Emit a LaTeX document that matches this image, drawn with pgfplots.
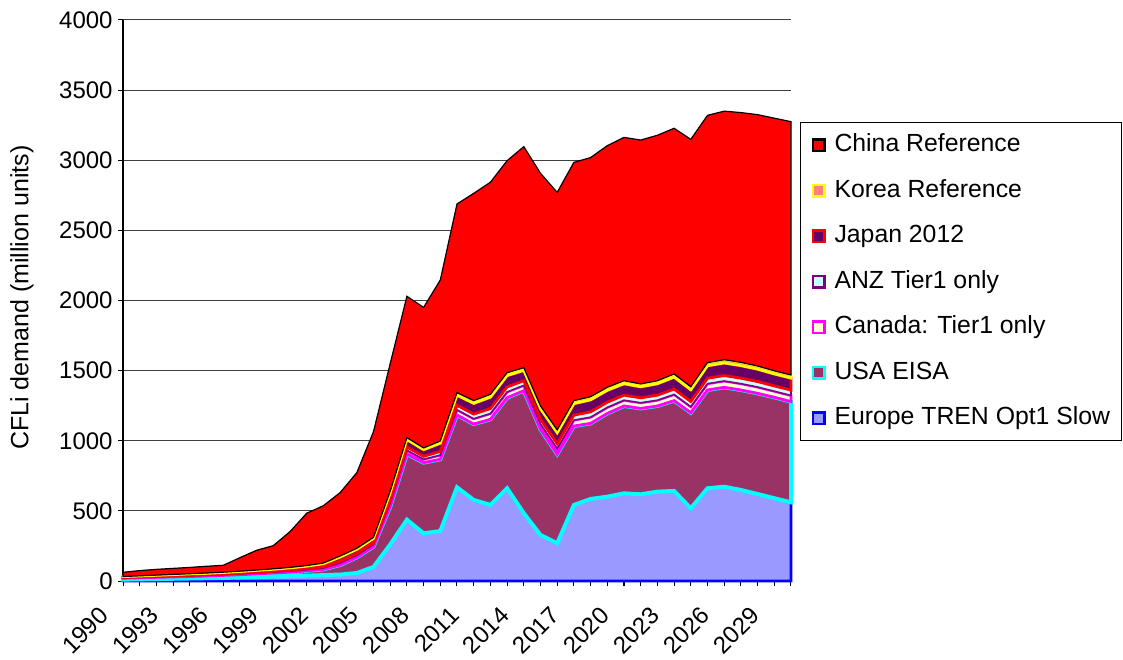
\documentclass[border=0pt]{standalone}
\usepackage{pgfplots}
\usepackage{pgfplotstable}
\pgfplotsset{compat=1.18}
\usepgfplotslibrary{fillbetween}
\usepackage{fontspec}
\setmainfont{Liberation Sans}

\definecolor{eurFill}{HTML}{9999FF}
\definecolor{eurLine}{HTML}{0000FF}
\definecolor{usaFill}{HTML}{993366}
\definecolor{usaLine}{HTML}{00FFFF}
\definecolor{canFill}{HTML}{FFFFCC}
\definecolor{canLine}{HTML}{FF00FF}
\definecolor{anzFill}{HTML}{CCFFFF}
\definecolor{anzLine}{HTML}{800080}
\definecolor{japFill}{HTML}{660066}
\definecolor{japLine}{HTML}{FF0000}
\definecolor{korFill}{HTML}{FF8080}
\definecolor{korLine}{HTML}{FFFF00}
\definecolor{chnFill}{HTML}{FF0000}
\definecolor{chnLine}{HTML}{000000}

% cumulative levels (top of each stacked series)
% E: Europe, U: +USA, C: +Canada, A: +ANZ, J: +Japan, K: +Korea, T: +China (total)
\pgfplotstableread{
year Z E U C A J K T
1990 0 10 20 23 25 31 32 62
1991 0 12 23 26 29 35 37 74
1992 0 14 26 30 33 40 42 83
1993 0 16 29 33 37 45 47 90
1994 0 18 32 37 41 50 52 97
1995 0 20 36 41 45 54 57 105
1996 0 22 40 45 50 60 63 112
1997 0 25 45 51 56 67 70 166
1998 0 28 51 57 62 75 78 219
1999 0 31 57 64 70 83 87 252
2000 0 34 63 71 78 93 97 352
2001 0 38 72 81 89 105 110 483
2002 0 42 83 93 102 123 128 537
2003 0 46 114 129 142 170 178 630
2004 0 57 169 184 197 225 233 772
2005 0 100 245 260 273 303 311 1065
2006 0 260 530 555 577 627 640 1550
2007 0 437 905 932 955 1008 1022 2030
2008 0 340 844 868 889 936 949 1951
2009 0 356 868 898 924 982 998 2146
2010 0 668 1184 1221 1253 1324 1343 2688
2011 0 578 1119 1157 1190 1266 1286 2764
2012 0 542 1153 1194 1230 1310 1331 2843
2013 0 661 1307 1348 1384 1464 1485 2997
2014 0 483 1357 1395 1428 1501 1521 3097
2015 0 328 1082 1120 1153 1228 1248 2907
2016 0 269 905 945 979 1056 1077 2771
2017 0 542 1105 1147 1183 1264 1286 2985
2018 0 585 1124 1168 1206 1291 1314 3019
2019 0 601 1195 1238 1275 1359 1381 3104
2020 0 625 1248 1289 1325 1406 1428 3163
2021 0 618 1231 1271 1306 1384 1405 3144
2022 0 637 1248 1289 1325 1406 1428 3178
2023 0 642 1286 1330 1368 1453 1476 3228
2024 0 518 1200 1243 1280 1363 1385 3149
2025 0 661 1362 1407 1446 1534 1557 3320
2026 0 672 1381 1426 1465 1554 1578 3350
2027 0 649 1362 1407 1446 1535 1559 3340
2028 0 620 1338 1383 1422 1510 1533 3325
2029 0 590 1310 1353 1391 1476 1499 3300
2030 0 561 1279 1323 1361 1446 1469 3275
}\datatable

\newcommand{\legsq}[2]{\addlegendimage{legend image code/.code={\draw[fill=#1, draw=#2, line width=1.3pt] (0.65pt,-2.85pt) rectangle (6.35pt,2.85pt);}}}

\begin{document}
\begin{tikzpicture}
\begin{axis}[
  scale only axis,
  width=334pt, height=280.5pt,
  xmin=1990, xmax=2030, ymin=0, ymax=4000,
  clip=false,
  axis x line*=bottom, axis y line*=left,
  axis line style={-, black, line width=0.6pt},
  xtick={1990,1993,...,2029},
  minor xtick={1990,...,2030},
  ytick={0,500,...,4000},
  tick align=outside,
  major tick length=2.5pt, minor tick length=2.5pt,
  tick style={black, line width=0.5pt},
  ymajorgrids,
  major grid style={black!75, line width=0.5pt},
  /pgf/number format/1000 sep={},
  /pgf/number format/assume math mode=true,
  tick label style={font=\fontsize{12}{14}\selectfont},
  xticklabel style={xshift=-12.5pt, yshift=-9.5pt, rotate=45, anchor=north east, inner sep=0pt},
  yticklabel style={anchor=east, inner sep=0pt, xshift=-2.5pt},
  ylabel={CFLi demand (million units)},
  ylabel style={at={(axis description cs:-0.1515,0.505)}, rotate=0, anchor=center, font=\fontsize{12.5}{14}\selectfont},
  legend style={at={(axis description cs:1.0135,0.818)}, anchor=north west,
    draw=black, line width=0.5pt, inner xsep=5.5pt, inner ysep=5.5pt,
    font=\fontsize{12.4}{14}\selectfont, legend cell align=left,
    nodes={inner sep=0pt, text height=9pt, text depth=2.5pt},
    row sep=11.25pt,
    /tikz/every odd column/.append style={column sep=4.5pt}},
]
\addplot[draw=none, forget plot, name path=Z] table[x=year, y=Z] {\datatable};
\addplot[draw=none, forget plot, name path=E] table[x=year, y=E] {\datatable};
\addplot[draw=none, forget plot, name path=U] table[x=year, y=U] {\datatable};
\addplot[draw=none, forget plot, name path=C] table[x=year, y=C] {\datatable};
\addplot[draw=none, forget plot, name path=A] table[x=year, y=A] {\datatable};
\addplot[draw=none, forget plot, name path=J] table[x=year, y=J] {\datatable};
\addplot[draw=none, forget plot, name path=K] table[x=year, y=K] {\datatable};
\addplot[draw=none, forget plot, name path=T] table[x=year, y=T] {\datatable};

\addplot[forget plot, fill=eurFill, draw=eurLine, line width=1.4pt] fill between[of=Z and E];
\addplot[forget plot, fill=usaFill, draw=usaLine, line width=2pt] fill between[of=E and U];
\addplot[forget plot, fill=canFill, draw=canLine, line width=1.4pt] fill between[of=U and C];
\addplot[forget plot, fill=anzFill, draw=anzLine, line width=0.8pt] fill between[of=C and A];
\addplot[forget plot, fill=japFill, draw=japLine, line width=1.4pt] fill between[of=A and J];
\addplot[forget plot, fill=korFill, draw=korLine, line width=1.3pt] fill between[of=J and K];
\addplot[forget plot, fill=chnFill, draw=chnLine, line width=0.6pt] fill between[of=K and T];

\legsq{chnFill}{chnLine}\addlegendentry{China Reference}
\legsq{korFill}{korLine}\addlegendentry{Korea Reference}
\legsq{japFill}{japLine}\addlegendentry{Japan 2012}
\legsq{anzFill}{anzLine}\addlegendentry{ANZ Tier1 only}
\legsq{canFill}{canLine}\addlegendentry{Canada: Tier1 only}
\legsq{usaFill}{usaLine}\addlegendentry{USA EISA}
\legsq{eurFill}{eurLine}\addlegendentry{Europe TREN Opt1 Slow}
\end{axis}
\pgfresetboundingbox
\path[use as bounding box] (current axis.south west) ++(-61.5pt,-39pt) rectangle ++(561.5pt,329.5pt);
\end{tikzpicture}
\end{document}
